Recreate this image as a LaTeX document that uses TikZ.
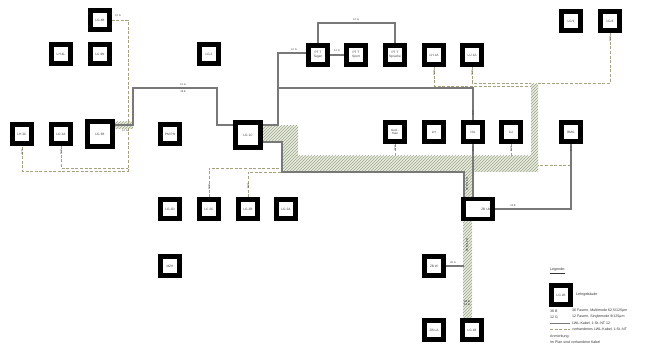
\documentclass[tikz,border=0pt]{standalone}
\usepackage{fontspec}
\setmainfont{Liberation Sans}
\usetikzlibrary{patterns}
\pgfdeclarelayer{cables}
\pgfsetlayers{cables,main}
\definecolor{newcable}{RGB}{120,120,120}
\definecolor{oldcable}{RGB}{165,160,125}
\definecolor{hatchcol}{RGB}{155,165,135}
\definecolor{bandbg}{RGB}{234,238,226}
\definecolor{labelcol}{RGB}{60,60,60}
\newcommand\boxfont{\fontsize{3.2}{3.6}\selectfont}
\newcommand\cabfont{\fontsize{2.6}{3}\selectfont}
\newcommand\legfont{\fontsize{3.6}{4.2}\selectfont}
\begin{document}
\begin{tikzpicture}[x=1pt,y=-1pt,
  bld/.style={draw=black, line width=4.3pt, fill=white, minimum width=19pt,
    minimum height=19pt, inner sep=0pt, align=center, font=\boxfont, text=black!75},
  bigbld/.style={bld, line width=4.6pt, minimum width=25.5pt, minimum height=25.5pt},
  widebld/.style={bld, minimum width=29pt, minimum height=20pt},
  newc/.style={draw=newcable, line width=1.1pt},
  oldc/.style={draw=oldcable, line width=0.9pt, dash pattern=on 3pt off 1.6pt},
  band/.style={fill=bandbg},
  bandhatch/.style={pattern=north east lines, pattern color=hatchcol},
  cab/.style={font=\cabfont, text=labelcol, inner sep=0.3pt},
  vcab/.style={cab, rotate=90},
  leg/.style={font=\legfont, text=black!80, anchor=west, inner sep=0pt}]
\useasboundingbox (0,0) rectangle (647,347);

% ---- buildings ----
\node[bld] (lg4b) at (100,20) {LG 4B};
\node[bld] (lh4l) at (61,54) {LH 4L};
\node[bld] (lu4n) at (100,54) {LU 4N};
\node[bld] (lg2) at (209,54) {LG 2};
\node[bld] (lh3c) at (22,134) {LH 3C};
\node[bld] (lg3a) at (61,134) {LG 3A};
\node[bigbld] (lg3b) at (100,134) {LG 3B};
\node[bld] (pmph) at (170,134) {PM PH};
\node[bigbld] (lg1c) at (248,135) {LG 1C};
\node[bld] (pttagen) at (318,55) {PT T\\Tagen};
\node[bld] (ptsport) at (356,55) {PT T\\Sport};
\node[bld] (ptsprache) at (395,55) {PT T\\Sprache};
\node[bld] (lh1a) at (434,55) {LH 1A};
\node[bld] (lu1a) at (472,55) {LU 1A};
\node[bld] (lg9) at (571,21) {LG 9};
\node[bld] (lg8) at (610,21) {LG 8};
\node[bld] (audmax) at (395,132) {Aud.-\\max};
\node[bld] (lh) at (434,132) {LH};
\node[bld] (hu) at (473,132) {HU};
\node[bld] (lu) at (511,132) {LU};
\node[bld] (bmg) at (571,132) {BMG};
\node[widebld, text width=25pt, align=right] (zbub) at (478,209) {ZB Ub};
\node[bld] (zbw) at (434,266) {ZB W};
\node[bld] (zbla) at (434,330) {ZB LA};
\node[bld] (lg1b) at (472,330) {LG 1B};
\node[bld] (lg2d) at (170,209) {LG 2D};
\node[bld] (lc2c) at (209,209) {LC 2C};
\node[bld] (lg2b) at (248,209) {LG 2B};
\node[bld] (lg2a) at (286,209) {LG 2A};
\node[bld] (mzh) at (170,266) {MZH};

\begin{pgfonlayer}{cables}
% ---- cable duct with the existing bundled cables ----
\foreach \a/\b in {{263,126}/{298,142},{282,126}/{298,172},{282,156}/{538,172},
                   {531,84}/{538,172},{463,172}/{472,318},{115,122}/{133,129}}{
  \fill[band] (\a) rectangle (\b);
  \fill[bandhatch] (\a) rectangle (\b);
}

% ---- existing cables (dashed) ----
\draw[oldc] (lg4b.east) -- (128,20) -- (128,171) -- (22,171) -- (lh3c.south);
\draw[oldc] (lg3a.south) -- (61,168) -- (128,168);
\draw[oldc] (lc2c.north) -- (209,168) -- (282,168);
\draw[oldc] (lg2b.north) -- (248,172) -- (282,172);
\draw[oldc] (lh1a.south) -- (434,86) -- (531,86);
\draw[oldc] (lu1a.south) -- (472,83) -- (531,83);
\draw[oldc] (lg8.south) -- (610,83) -- (538,83);
\draw[oldc] (audmax.south) -- (395,156);
\draw[oldc] (lu.south) -- (511,156);
\draw[oldc] (bmg.south |- 0,165) -- (538,165);

% ---- new cables (solid) ----
\draw[newc] (lg1c.west |- 0,125) -- (217,125) -- (217,88) -- (133,88) -- (133,125) -- (lg3b.east |- 0,125);
\draw[newc] (lg1c.east |- 0,125) -- (278,125) -- (278,53) -- (pttagen.west |- 0,53);
\draw[newc] (278,88) -- (473,88) -- (hu.north);
\draw[newc] (pttagen.east) -- (ptsport.west);
\draw[newc] (pttagen.north) -- (318,23) -- (395,23) -- (ptsprache.north);
\draw[newc] (hu.south) -- (hu.south |- zbub.north);
\draw[newc] (zbub.east) -- (571,209) -- (bmg.south);
\draw[newc] (zbw.east) -- (464,266);
\draw[newc] (lg1c.east |- 0,142) -- (282,142) -- (282,172) -- (464,172) -- (464,197);
\end{pgfonlayer}

% ---- cable labels ----
\node[cab] (t1) at (183,85) {12 G};
\node[cab] (t2) at (183,92) {36 B};
\node[cab] (t3) at (294,50) {12 G};
\node[cab] (t4) at (337,51) {12 G};
\node[cab] (t5) at (356,20) {12 G};
\node[cab] (t6) at (118,16) {12 G};
\node[cab] (t7) at (125,131) {12 G};
\node[cab] (t8) at (513,206) {24 B};
\node[cab] (t9) at (453,263) {48 G};
\node[vcab] (v1) at (22,152) {12 G};
\node[vcab] (v2) at (61,152) {12 G};
\node[vcab] (v3) at (209,187) {12 G};
\node[vcab] (v4) at (248,186) {12 G};
\node[vcab] (v5) at (434,73) {12 G};
\node[vcab] (v6) at (472,73) {12 G};
\node[vcab] (v7) at (610,39) {12 G};
\node[vcab] (v8) at (395,148) {12 G};
\node[vcab] (v9) at (473,149) {12 G};
\node[vcab] (v10) at (511,149) {12 G};
\node[vcab] (v11) at (571,149) {12 G};
\node[vcab] (v12) at (473,113) {12 G};
\node[vcab, text=black] (v13) at (467,184) {36 B / 12 G};
\node[vcab, text=black] (v14) at (467,245) {36 B / 12 G};
\node[cab, text=black, align=center] (v15) at (467,303) {24 G\\12 G};

% ---- legend ----
\node[leg] (leghead) at (550,271) {\underline{Legende:}};
\node[bld] (legbox) at (561,295) {LG 1B};
\node[leg] (legbld) at (576,295) {Lehrgebäude};
\node[leg] (leg36a) at (550,311) {36 B};
\node[leg] (leg36b) at (572,311) {36 Fasern, Multimode 62,5/125µm};
\node[leg] (leg12a) at (550,317) {12 G};
\node[leg] (leg12b) at (572,317) {12 Fasern, Singlemode 9/125µm};
\coordinate (lsa) at (550,323);
\coordinate (lsb) at (570,323);
\draw[newc, line width=0.6pt] (lsa) -- (lsb);
\node[leg] (legnew) at (572,323) {LWL-Kabel, 1:St.-NT 12};
\coordinate (lda) at (550,329);
\coordinate (ldb) at (570,329);
\draw[oldc, line width=0.6pt] (lda) -- (ldb);
\node[leg] (legold) at (572,329) {vorhandenes LWL-Kabel, 1:St.-NT};
\node[leg] (legnote) at (550,337) {Anmerkung:};
\node[leg] (legnote2) at (550,342) {Im Plan sind vorhandene Kabel};
\end{tikzpicture}
\end{document}
